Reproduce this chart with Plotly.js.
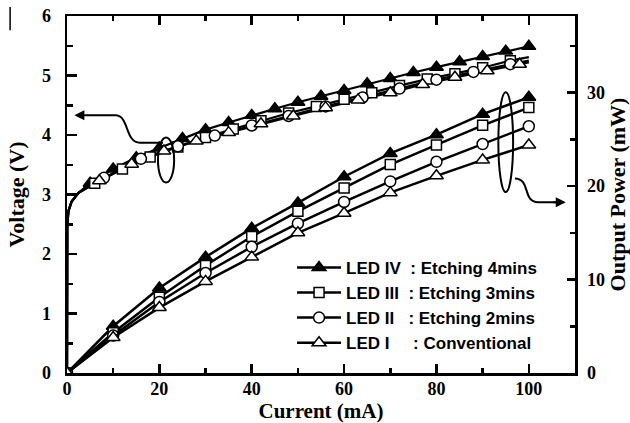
<!DOCTYPE html>
<html>
<head>
<meta charset="utf-8">
<script src="https://cdn.plot.ly/plotly-3.0.1.min.js"></script>
<style>html,body{margin:0;padding:0;background:#fff;}#chart{width:630px;height:423px;}</style>
</head>
<body>
<div id="chart"></div>
<script>
// ---- Data ----
const seriesNames = ["LED IV", "LED III", "LED II", "LED I"];
const seriesLabels = ["LED IV\u00a0\u00a0: Etching 4mins", "LED III\u00a0\u00a0: Etching 3mins", "LED II\u00a0\u00a0\u00a0: Etching 2mins", "LED I\u00a0\u00a0\u00a0\u00a0\u00a0: Conventional"];

// Output power (mW) vs current (mA)
const powerCurrent = [0, 10, 20, 30, 40, 50, 60, 70, 80, 90, 100];
const powerIV  = [0, 5.0, 9.1, 12.4, 15.5, 18.2, 21.0, 23.5, 25.5, 27.7, 29.5];
const powerIII = [0, 4.3, 8.1, 11.5, 14.6, 17.3, 19.8, 22.3, 24.4, 26.5, 28.4];
const powerII  = [0, 4.0, 7.6, 10.7, 13.5, 16.0, 18.3, 20.5, 22.6, 24.5, 26.4];
const powerI   = [0, 3.8, 7.0, 9.8, 12.4, 15.0, 17.1, 19.3, 21.1, 22.8, 24.4];

// Voltage (V) vs current (mA): common turn-on part, then measured points
const voltStartCurrent = [0, 0.05, 0.3, 1, 2.5];
const voltStartVoltage = [0, 2.45, 2.72, 2.88, 3.03];
const voltCurrentIV  = [5, 10, 15, 20, 25, 30, 35, 40, 45, 50, 55, 60, 65, 70, 75, 80, 85, 90, 95, 100];
const voltIV         = [3.19, 3.43, 3.62, 3.78, 3.94, 4.09, 4.21, 4.33, 4.44, 4.55, 4.65, 4.75, 4.86, 4.95, 5.05, 5.14, 5.23, 5.32, 5.41, 5.49];
const voltCurrentIII = [6, 12, 18, 24, 30, 36, 42, 48, 54, 60, 66, 72, 78, 84, 90, 96, 100];
const voltIII        = [3.19, 3.43, 3.63, 3.80, 3.96, 4.10, 4.24, 4.37, 4.48, 4.60, 4.71, 4.83, 4.94, 5.03, 5.13, 5.25, 5.31];
const voltCurrentII  = [8, 16, 24, 32, 40, 48, 56, 64, 72, 80, 88, 96, 100];
const voltII         = [3.28, 3.60, 3.81, 3.99, 4.16, 4.32, 4.48, 4.63, 4.78, 4.93, 5.06, 5.19, 5.25];
const voltCurrentI   = [7, 14, 21, 28, 35, 42, 49, 56, 63, 70, 77, 84, 91, 98, 100];
const voltI          = [3.23, 3.51, 3.73, 3.90, 4.04, 4.19, 4.32, 4.46, 4.59, 4.71, 4.85, 4.97, 5.08, 5.19, 5.22];

// ---- Styles ----
const markerStep = [5, 6, 8, 7];
const symbols = ["triangle-up", "square", "circle", "triangle-up"];
const fills = ["black", "white", "white", "white"];
const sizes = [12, 10, 11, 12];

const powerSets = [powerIV, powerIII, powerII, powerI];
const voltCurrents = [voltCurrentIV, voltCurrentIII, voltCurrentII, voltCurrentI];
const voltSets = [voltIV, voltIII, voltII, voltI];

function marker(i) {
  return {symbol: symbols[i], size: sizes[i], color: fills[i], line: {color: "black", width: 1.5}};
}

const traces = [];
for (let i = 0; i < 4; i++) {
  traces.push({
    x: voltStartCurrent.concat(voltCurrents[i]),
    y: voltStartVoltage.concat(voltSets[i]),
    mode: "lines", line: {color: "black", width: 2.2}, yaxis: "y",
    showlegend: false, hoverinfo: "skip", name: seriesNames[i] + " V"
  });
}
for (let i = 0; i < 4; i++) {
  const mx = [], my = [];
  voltCurrents[i].forEach((c, k) => { if (c % markerStep[i] === 0) { mx.push(c); my.push(voltSets[i][k]); } });
  traces.push({
    x: mx, y: my, mode: "markers", marker: marker(i), yaxis: "y",
    showlegend: false, name: seriesNames[i] + " V markers"
  });
}
for (let i = 0; i < 4; i++) {
  traces.push({
    x: powerCurrent, y: powerSets[i], mode: "lines+markers", yaxis: "y2",
    line: {color: "black", width: 2.5}, marker: marker(i),
    name: seriesLabels[i]
  });
}

const tickFont = {family: "Liberation Serif, Times New Roman, serif", size: 18, color: "black", weight: "bold"};
const titleFont = {family: "Liberation Serif, Times New Roman, serif", size: 22, color: "black", weight: "bold"};

const layout = {
  width: 630, height: 423,
  margin: {l: 67, r: 55, t: 16, b: 50, pad: 0},
  paper_bgcolor: "white", plot_bgcolor: "white",
  showlegend: true,
  legend: {
    x: 0.443, y: 0.345, xanchor: "left", yanchor: "top",
    bgcolor: "rgba(255,255,255,0)", borderwidth: 0,
    font: {family: "Liberation Sans, Arial, sans-serif", size: 17, color: "black", weight: "bold"},
    itemwidth: 44, tracegroupgap: 0
  },
  xaxis: {
    range: [0, 110], dtick: 20, tick0: 0,
    showgrid: false, zeroline: false,
    showline: true, linecolor: "black", linewidth: 2.5, mirror: "ticks",
    ticks: "inside", ticklen: 9, tickwidth: 2.5, tickcolor: "black",
    minor: {dtick: 10, ticks: "inside", ticklen: 5, tickwidth: 2.5, tickcolor: "black", showgrid: false},
    tickfont: tickFont, ticklabelstandoff: -2,
    title: {text: "Current (mA)", font: {family: titleFont.family, size: 21, color: "black", weight: "bold"}, standoff: 6}
  },
  yaxis: {
    range: [0, 6], dtick: 1, tick0: 0,
    showgrid: false, zeroline: false,
    showline: true, linecolor: "black", linewidth: 2.5,
    ticks: "inside", ticklen: 10, tickwidth: 2.5, tickcolor: "black",
    minor: {dtick: 0.5, ticks: "inside", ticklen: 6, tickwidth: 2.5, tickcolor: "black", showgrid: false},
    tickfont: tickFont, ticklabelstandoff: 10,
    title: {text: "Voltage (V)", font: titleFont, standoff: 11}
  },
  yaxis2: {
    overlaying: "y", side: "right",
    range: [0, 38.2], dtick: 10, tick0: 0,
    showgrid: false, zeroline: false,
    showline: true, linecolor: "black", linewidth: 2.5,
    ticks: "inside", ticklen: 8, tickwidth: 2.5, tickcolor: "black",
    minor: {dtick: 5, ticks: "inside", ticklen: 5, tickwidth: 2.5, tickcolor: "black", showgrid: false},
    tickfont: tickFont, ticklabelstandoff: 6,
    title: {text: "Output Power (mW)", font: titleFont, standoff: 8}
  },
  shapes: [
    {type: "circle", xref: "x", yref: "y", x0: 19.7, x1: 23.2, y0: 3.2, y1: 3.96, line: {color: "black", width: 2}},
    {type: "circle", xref: "x", yref: "y", x0: 93.4, x1: 96.6, y0: 3.04, y1: 4.72, line: {color: "black", width: 2}},
    {type: "path", xref: "x", yref: "y", path: "M 20.8,3.87 L 15.8,3.87 C 12.5,3.87 13.5,4.33 10.5,4.33 L 3,4.33", line: {color: "black", width: 2}},
    {type: "path", xref: "x", yref: "y", path: "M 97,3.27 C 100.5,3.26 98.5,2.88 102,2.87 L 106,2.87", line: {color: "black", width: 2}},
    {type: "line", xref: "paper", yref: "paper", x0: -0.112, x1: -0.112, y0: 1.025, y1: 0.96, line: {color: "black", width: 1.5}}
  ],
  annotations: [
    {xref: "x", yref: "y", axref: "x", ayref: "y", x: 1.6, y: 4.33, ax: 4, ay: 4.33, text: "", showarrow: true, arrowhead: 2, arrowsize: 1, arrowwidth: 2, arrowcolor: "black"},
    {xref: "x", yref: "y", axref: "x", ayref: "y", x: 108, y: 2.87, ax: 105, ay: 2.87, text: "", showarrow: true, arrowhead: 2, arrowsize: 1, arrowwidth: 2, arrowcolor: "black"}
  ]
};

Plotly.newPlot("chart", traces, layout, {staticPlot: true, displayModeBar: false});
</script>
</body>
</html>
